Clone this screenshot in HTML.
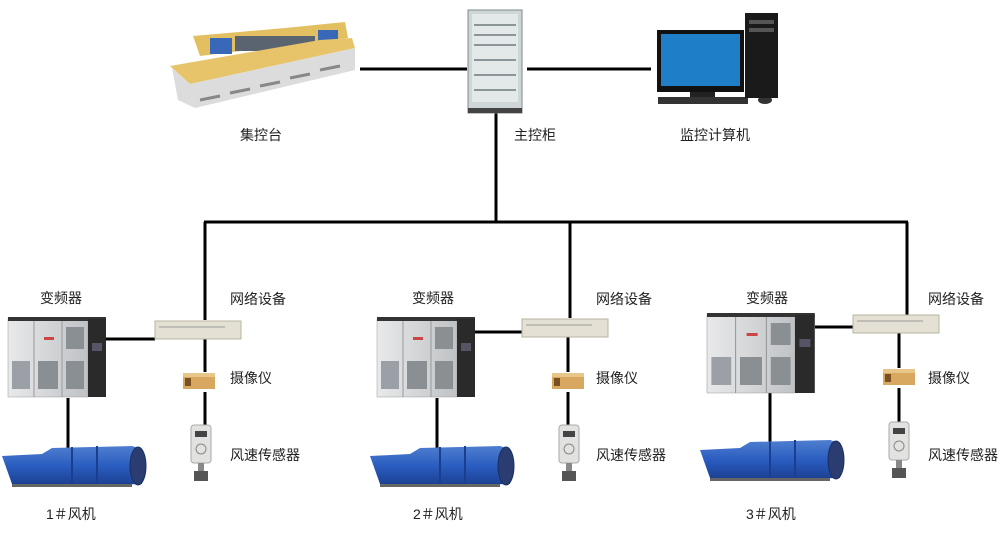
<!DOCTYPE html>
<html><head><meta charset="utf-8"><style>
html,body{margin:0;padding:0;background:#fff;}
svg{display:block}
text{font-family:"Liberation Sans","Noto Sans CJK SC",sans-serif;font-size:14px;fill:#222;}
</style></head><body>
<svg width="1000" height="533" viewBox="0 0 1000 533" xmlns="http://www.w3.org/2000/svg">
<defs>
<linearGradient id="vg" x1="0" x2="1"><stop offset="0" stop-color="#e8e9ea"/><stop offset="1" stop-color="#bfc2c5"/></linearGradient>
<linearGradient id="fg" x1="0" y1="0" x2="0" y2="1"><stop offset="0" stop-color="#4f7fd0"/><stop offset="0.5" stop-color="#2a5cc0"/><stop offset="1" stop-color="#1b3f8e"/></linearGradient>
<g id="vfd">
 <rect x="0" y="6" width="80" height="78" fill="url(#vg)" stroke="#999" stroke-width="0.5"/>
 <rect x="0" y="4" width="98" height="4" fill="#333"/>
 <rect x="80" y="6" width="18" height="78" fill="#2a2a2a"/>
 <line x1="26" y1="8" x2="26" y2="84" stroke="#999"/><line x1="54" y1="8" x2="54" y2="84" stroke="#999"/>
 <rect x="58" y="14" width="18" height="22" fill="#8a8f94"/><rect x="58" y="48" width="18" height="28" fill="#8a8f94"/>
 <rect x="30" y="48" width="20" height="28" fill="#8a8f94"/><rect x="4" y="48" width="18" height="28" fill="#9aa0a5"/>
 <rect x="36" y="24" width="10" height="3" fill="#c44"/>
 <rect x="84" y="30" width="10" height="8" fill="#556"/>
</g>
<g id="net">
 <rect x="0" y="0" width="86" height="18" fill="#e4e1d4" stroke="#b8b4a0"/>
 <line x1="4" y1="6" x2="70" y2="6" stroke="#999" stroke-width="1"/>
</g>
<g id="cam">
 <rect x="0" y="4" width="32" height="16" fill="#d9a860"/>
 <rect x="0" y="4" width="32" height="4" fill="#e8c588"/>
 <rect x="2" y="9" width="6" height="8" fill="#7a5020"/>
</g>
<g id="sen">
 <rect x="1" y="0" width="20" height="38" rx="3" fill="#e2e2e0" stroke="#aaa"/>
 <rect x="5" y="6" width="12" height="6" fill="#444"/>
 <circle cx="11" cy="24" r="5" fill="none" stroke="#888"/>
 <rect x="8" y="38" width="6" height="8" fill="#888"/>
 <rect x="4" y="46" width="14" height="10" fill="#555"/>
</g>
<g id="fan">
 <path d="M0 10 L40 8 L50 2 L130 0 L140 3 L140 38 L50 40 L10 38 Z" fill="url(#fg)"/>
 <ellipse cx="136" cy="20" rx="8" ry="19" fill="#2a3c70" stroke="#1b2f66"/>
 <line x1="70" y1="1" x2="70" y2="40" stroke="#1b3f8e" stroke-width="2"/>
 <line x1="95" y1="0" x2="95" y2="39" stroke="#1b3f8e" stroke-width="2"/>
 <rect x="10" y="38" width="120" height="3" fill="#666"/>
</g>
</defs>

<g stroke="#000" stroke-width="3" fill="none">
 <line x1="360" y1="69" x2="467" y2="69"/>
 <line x1="527" y1="69" x2="651" y2="69"/>
 <line x1="496" y1="113" x2="496" y2="222"/>
 <line x1="204" y1="222" x2="908" y2="222"/>
 <line x1="205" y1="222" x2="205" y2="320"/>
 <line x1="570" y1="222" x2="570" y2="318"/>
 <line x1="907" y1="222" x2="907" y2="315"/>
 <line x1="105" y1="339" x2="155" y2="339"/>
 <line x1="475" y1="332" x2="522" y2="332"/>
 <line x1="815" y1="327" x2="853" y2="327"/>
 <line x1="205" y1="338" x2="205" y2="372"/><line x1="205" y1="392" x2="205" y2="425"/>
 <line x1="568" y1="336" x2="568" y2="372"/><line x1="568" y1="392" x2="568" y2="425"/>
 <line x1="899" y1="333" x2="899" y2="368"/><line x1="899" y1="388" x2="899" y2="422"/>
 <line x1="68" y1="398" x2="68" y2="450"/>
 <line x1="437" y1="398" x2="437" y2="450"/>
 <line x1="770" y1="393" x2="770" y2="445"/>
</g>

<!-- console -->
<path d="M193 36 L285 28 L345 22 L348 38 L200 56 Z" fill="#e2bf60"/>
<rect x="210" y="38" width="22" height="16" fill="#3a68b8"/>
<rect x="235" y="36" width="80" height="15" fill="#5a6470"/>
<rect x="278" y="30" width="16" height="14" fill="#3a68b8" opacity="0"/>
<rect x="318" y="30" width="20" height="14" fill="#3a68b8"/>
<path d="M170 66 L320 40 L352 38 L355 48 L190 84 Z" fill="#e7c46a"/>
<path d="M190 84 L355 48 L355 70 L195 108 L178 100 L172 68 Z" fill="#dcdcdc"/>
<g stroke="#888" stroke-width="3"><line x1="200" y1="100" x2="220" y2="96"/><line x1="230" y1="93" x2="250" y2="89"/><line x1="260" y1="86" x2="280" y2="82"/><line x1="290" y1="78" x2="310" y2="74"/><line x1="320" y1="70" x2="340" y2="66"/></g>

<!-- cabinet -->
<rect x="468" y="10" width="54" height="103" fill="#cfd6d8" stroke="#7c8a8e"/>
<rect x="472" y="14" width="46" height="88" fill="#e3e8e8"/>
<g stroke="#6c7a7e" stroke-width="1.5"><line x1="474" y1="25" x2="516" y2="25"/><line x1="474" y1="35" x2="516" y2="35"/><line x1="474" y1="45" x2="516" y2="45"/><line x1="474" y1="60" x2="516" y2="60"/><line x1="474" y1="75" x2="516" y2="75"/><line x1="474" y1="90" x2="516" y2="90"/></g>
<rect x="468" y="108" width="54" height="5" fill="#444"/>

<!-- computer -->
<rect x="657" y="30" width="87" height="62" fill="#111"/>
<rect x="661" y="34" width="79" height="52" fill="#1e7fc8"/>
<rect x="690" y="92" width="25" height="5" fill="#222"/>
<rect x="658" y="97" width="90" height="7" fill="#333"/>
<ellipse cx="765" cy="100" rx="7" ry="4" fill="#333"/>
<rect x="745" y="13" width="33" height="85" fill="#1a1a1a"/>
<rect x="749" y="20" width="25" height="4" fill="#555"/><rect x="749" y="28" width="25" height="4" fill="#555"/>

<use href="#vfd" x="8" y="313"/><use href="#vfd" x="377" y="313"/><use href="#vfd" transform="translate(707,309) scale(1.1,1)"/>
<use href="#net" x="155" y="321"/><use href="#net" x="522" y="319"/><use href="#net" x="853" y="315"/>
<use href="#cam" x="183" y="369"/><use href="#cam" x="552" y="369"/><use href="#cam" x="883" y="365"/>
<use href="#sen" x="190" y="425"/><use href="#sen" x="558" y="425"/><use href="#sen" x="888" y="422"/>
<use href="#fan" x="2" y="446"/><use href="#fan" x="370" y="446"/><use href="#fan" x="700" y="440"/>

<text x="240" y="140">集控台</text>
<text x="514" y="140">主控柜</text>
<text x="680" y="140">监控计算机</text>
<text x="40" y="303">变频器</text><text x="230" y="304">网络设备</text><text x="230" y="383">摄像仪</text><text x="230" y="460">风速传感器</text><text x="46" y="519">1＃风机</text>
<text x="412" y="303">变频器</text><text x="596" y="304">网络设备</text><text x="596" y="383">摄像仪</text><text x="596" y="460">风速传感器</text><text x="413" y="519">2＃风机</text>
<text x="746" y="303">变频器</text><text x="928" y="304">网络设备</text><text x="928" y="383">摄像仪</text><text x="928" y="460">风速传感器</text><text x="746" y="519">3＃风机</text>
</svg>
</body></html>
